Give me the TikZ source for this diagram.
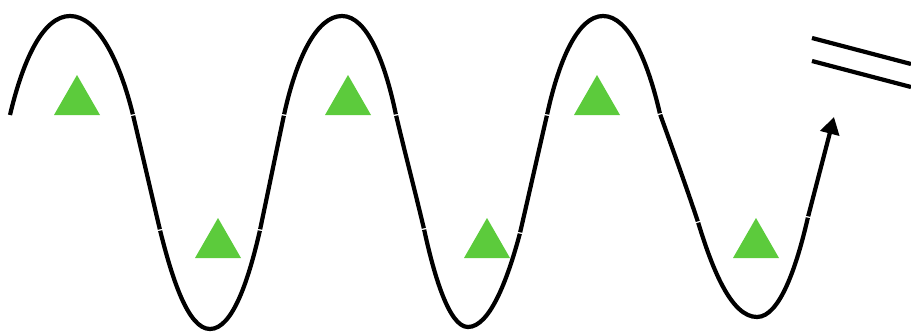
\documentclass[tikz,border=0pt]{standalone}
\usetikzlibrary{arrows.meta}
\definecolor{trigreen}{RGB}{92,203,60}
\begin{document}
\begin{tikzpicture}[x=1pt,y=-1pt,
  wave/.style={line width=4.2pt,black,line cap=butt},
  piece/.style={wave,shorten <=0.7pt,shorten >=0.7pt},
  tri/.style={fill=trigreen}]
\useasboundingbox (0,0) rectangle (911,332);
% hump 1
\draw[wave,shorten >=0.7pt] (10,115) .. controls (23,60) and (43,16) .. (70,16)
  .. controls (98,16) and (120,62) .. (133,115);
\draw[piece] (133,115) .. controls (142,153) and (151,192) .. (160,230);
\draw[piece] (160,230) .. controls (172,278) and (188,329) .. (210,329)
  .. controls (233,329) and (249,278) .. (260,230);
\draw[piece] (260,230) .. controls (268,192) and (276,153) .. (284,115);
% hump 2
\draw[piece] (284,115) .. controls (296,60) and (316,16) .. (342,16)
  .. controls (367,16) and (385,62) .. (396,115);
\draw[piece] (396,115) .. controls (405,153) and (415,191) .. (424,229);
\draw[piece] (424,229) .. controls (434,275) and (449,327) .. (468,327)
  .. controls (490,327) and (508,278) .. (520,233);
\draw[piece] (520,233) .. controls (529,194) and (538,154) .. (547,115);
% hump 3
\draw[piece] (547,115) .. controls (559,60) and (578,16) .. (603,16)
  .. controls (629,16) and (648,62) .. (660,114);
\draw[piece] (660,114) .. controls (673,150) and (686,186) .. (698,222);
\draw[piece] (698,222) .. controls (712,268) and (731,317) .. (757,317)
  .. controls (780,317) and (797,265) .. (808,217);
% arrow
\coordinate (astart) at (808,217);
\coordinate (aend) at (834,117);
\draw[wave,shorten <=0.7pt,-{Triangle[length=17pt,width=19pt]}] (astart) -- (aend);
% parallel lines
\draw[wave] (812,38) -- (911,64);
\draw[wave] (812,61) -- (911,87);
% triangles
\foreach \x/\y in {77/115,218/258,348/115,487/258,597/115,756/258}
  \fill[tri] (\x-23,\y) -- (\x,\y-40) -- (\x+23,\y) -- cycle;
\end{tikzpicture}
\end{document}
